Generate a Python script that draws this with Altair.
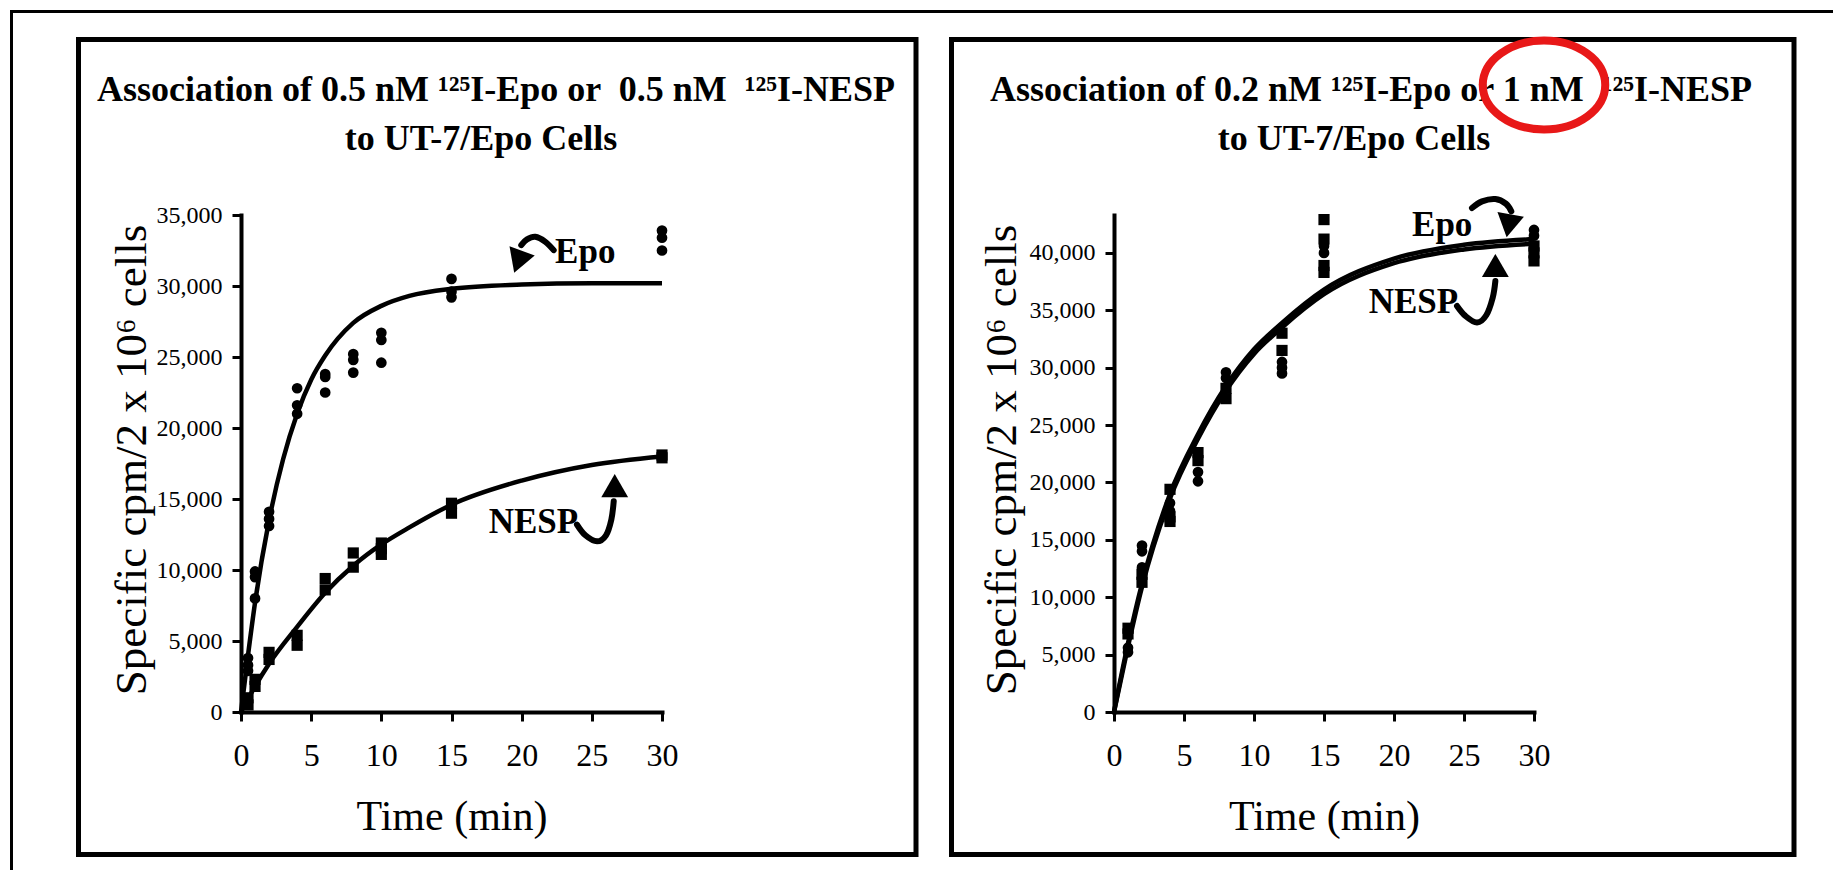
import altair as alt
import pandas as pd

FONT = "Liberation Serif"

# ---------------- Left panel (0.5 nM Epo vs 0.5 nM NESP) ----------------
L_TIMES = [0.5, 1, 2, 4, 6, 8, 10, 15, 30]
L_EPO = [[3800, 3300, 2900], [9900, 9500, 8000], [14100, 13600, 13100],
         [22800, 21600, 21000], [23800, 23600, 22500], [25200, 24800, 23900],
         [26700, 26200, 24600], [30500, 29600, 29200], [33900, 33400, 32500]]
L_NESP = [[1000, 500], [2300, 1800], [4200, 3700], [5400, 4700], [9400, 8600],
          [11200, 10200], [11900, 11500, 11100], [14700, 14000], [18100, 17900]]
L_EPO_FIT_T = [0, 0.5, 1, 2, 3, 4, 5, 6, 8, 10, 12, 15, 20, 25, 30]
L_EPO_FIT_V = [0, 4000, 7700, 13500, 17800, 21000, 23400, 25100, 27400, 28600,
               29300, 29800, 30100, 30200, 30200]
L_NESP_FIT_T = [0, 1, 2, 4, 6, 8, 10, 12, 15, 20, 25, 30]
L_NESP_FIT_V = [0, 1800, 3400, 6000, 8400, 10300, 11800, 13000, 14600, 16300, 17400, 18000]
L_YTICKS = [0, 5000, 10000, 15000, 20000, 25000, 30000, 35000]
L_YDOM = [0, 35000]

# annotation arrows (data space)
L_EPO_ARROW_T = [22.28, 21.69, 20.97, 20.38, 19.97]
L_EPO_ARROW_V = [32525, 33112, 33467, 33280, 32878]
L_NESP_ARROW_T = [23.94, 24.54, 25.37, 26.01, 26.39, 26.56]
L_NESP_ARROW_V = [13200, 12445, 12020, 12445, 13553, 14848]
L_HEAD_T = [19.75, 26.63]
L_HEAD_V = [31700, 15950]
L_HEAD_SHAPE = ["triangle-down", "triangle-up"]
L_HEAD_ANGLE = [20, 0]
L_LABEL_T = [22.38, 17.65]
L_LABEL_V = [31630, 12610]
L_LABEL_TEXT = ["Epo", "NESP"]

# ---------------- Right panel (0.2 nM Epo vs 1 nM NESP) ----------------
R_TIMES = [1, 2, 4, 6, 8, 12, 15, 30]
R_EPO = [[5600, 5200], [14500, 14000, 12600], [18200, 17500], [20900, 20100],
         [29600, 29100], [30500, 30000, 29500], [40600, 40000], [42000, 41500]]
R_NESP = [[7300, 6800], [12000, 11300], [19400, 17000, 16600], [22600, 21900],
          [28200, 27300], [33000, 31500], [42900, 41200, 38900, 38300],
          [40600, 40000, 39300]]
R_FIT_T = [0, 1, 2, 4, 6, 8, 10, 12, 15, 20, 25, 30]
R_EPO_FIT_V = [0, 6000, 11200, 19000, 24200, 28400, 31600, 33900, 36800, 39500, 40700, 41200]
R_NESP_FIT_V = [0, 5700, 10900, 18600, 23800, 28000, 31200, 33500, 36400, 39100, 40300, 40800]
R_YTICKS = [0, 5000, 10000, 15000, 20000, 25000, 30000, 35000, 40000]
R_YDOM = [0, 43300]

R_EPO_ARROW_T = [25.57, 26.29, 27.24, 28.0, 28.38]
R_EPO_ARROW_V = [43904, 44483, 44685, 44280, 43616]
R_NESP_ARROW_T = [24.5, 25.1, 25.93, 26.59, 27.05, 27.24]
R_NESP_ARROW_V = [35375, 34507, 33926, 34565, 36095, 37543]
R_HEAD_T = [28.19, 27.24]
R_HEAD_V = [42360, 38900]
R_HEAD_SHAPE = ["triangle-down", "triangle-up"]
R_HEAD_ANGLE = [10, 0]
R_LABEL_T = [21.29, 18.19]
R_LABEL_V = [41446, 34794]
R_LABEL_TEXT = ["Epo", "NESP"]

X_TICKS = [0, 5, 10, 15, 20, 25, 30]
NB = "\u00a0"
L_TITLE1 = "Association of 0.5 nM \u00b9\u00b2\u2075I-Epo or " + NB + "0.5 nM " + NB + "\u00b9\u00b2\u2075I-NESP"
R_TITLE1 = "Association of 0.2 nM \u00b9\u00b2\u2075I-Epo or 1 nM " + NB + "\u00b9\u00b2\u2075I-NESP"
TITLE2 = "to UT-7/Epo Cells"
Y_TITLE = "Specific cpm/2 x 10\u2076 cells"
X_TITLE = "Time (min)"

W, H = 421, 497
W2 = 420


def points_df(times, epo, nesp):
    rows = []
    for t, vals in zip(times, epo):
        rows += [{"t": t, "v": v, "s": "Epo"} for v in vals]
    for t, vals in zip(times, nesp):
        rows += [{"t": t, "v": v, "s": "NESP"} for v in vals]
    return pd.DataFrame(rows)


def fit_df(t1, v1, t2, v2):
    a = pd.DataFrame({"t": t1, "v": v1, "s": "Epo"})
    b = pd.DataFrame({"t": t2, "v": v2, "s": "NESP"})
    return pd.concat([a, b], ignore_index=True)


def arrow_df(t1, v1, t2, v2):
    a = pd.DataFrame({"t": t1, "v": v1, "a": "epo", "o": list(range(len(t1)))})
    b = pd.DataFrame({"t": t2, "v": v2, "a": "nesp", "o": list(range(len(t2)))})
    return pd.concat([a, b], ignore_index=True)


def panel(pts, fits, arrows, heads, labels, ydom, yticks, w, title1, title2,
          t1x, t2x, ytitle_x, frame_x2, extra, line_w):
    X = alt.X("t:Q", scale=alt.Scale(domain=[0, 30], nice=False, zero=False),
              axis=alt.Axis(values=X_TICKS, format="d", title=X_TITLE, grid=False,
                            domainColor="black", domainWidth=4, domainCap="square",
                            tickColor="black", tickWidth=3, tickSize=9,
                            labelFont=FONT, labelFontSize=32, labelColor="black",
                            labelBaseline="alphabetic", labelPadding=44,
                            labelFlush=False, labelOverlap=False,
                            titleFont=FONT, titleFontSize=42, titleFontWeight="normal",
                            titleColor="black", titleX=w / 2, titleY=117,
                            titleAlign="center", titleBaseline="alphabetic"))
    Y = alt.Y("v:Q", scale=alt.Scale(domain=ydom, nice=False, zero=True),
              axis=alt.Axis(values=yticks, format=",d", title=Y_TITLE, grid=False,
                            domainColor="black", domainWidth=4, domainCap="square",
                            tickColor="black", tickWidth=3, tickSize=9,
                            labelFont=FONT, labelFontSize=24, labelColor="black",
                            labelPadding=10, labelBaseline="middle",
                            labelOverlap=False, labelFlush=False,
                            titleFont=FONT, titleFontSize=45, titleFontWeight="normal",
                            titleColor="black", titleAngle=270, titleX=ytitle_x,
                            titleY=H / 2 - 4, titleAlign="center",
                            titleBaseline="middle"))
    one = pd.DataFrame({"k": [0]})

    pts_layer = alt.Chart(pts).mark_point(filled=True, opacity=1, color="black").encode(
        x=X, y=Y,
        shape=alt.Shape("s:N", scale=alt.Scale(domain=["Epo", "NESP"], range=["circle", "square"]), legend=None),
        size=alt.Size("s:N", scale=alt.Scale(domain=["Epo", "NESP"], range=[115, 125]), legend=None),
    )
    fit_layer = alt.Chart(fits).mark_line(color="black", strokeWidth=line_w, interpolate="monotone").encode(
        x=X, y=Y, detail="s:N")
    arrow_layer = alt.Chart(arrows).mark_line(color="black", strokeWidth=6, interpolate="cardinal",
                                              strokeCap="round").encode(
        x=X, y=Y, detail="a:N", order="o:Q")
    head_layer = alt.Chart(heads).mark_point(filled=True, opacity=1, color="black", size=720).encode(
        x=X, y=Y,
        shape=alt.Shape("shape:N", scale=None),
        angle=alt.Angle("angle:Q", scale=None))
    label_layer = alt.Chart(labels).mark_text(font=FONT, fontSize=35, fontWeight="bold", color="black",
                                              align="left", baseline="alphabetic").encode(
        x=X, y=Y, text="text:N")

    frame = alt.Chart(one).mark_rect(fillOpacity=0, stroke="black", strokeWidth=5).encode(
        x=alt.value(-162.5), x2=alt.value(frame_x2), y=alt.value(-175.5), y2=alt.value(639.5))
    tl1 = alt.Chart(one).mark_text(font=FONT, fontSize=36, fontWeight="bold", color="black",
                                   align="center", baseline="alphabetic").encode(
        x=alt.value(t1x), y=alt.value(-114), text=alt.value(title1))
    tl2 = alt.Chart(one).mark_text(font=FONT, fontSize=36, fontWeight="bold", color="black",
                                   align="center", baseline="alphabetic").encode(
        x=alt.value(t2x), y=alt.value(-65), text=alt.value(title2))

    layers = [frame, tl1, tl2, fit_layer, pts_layer, arrow_layer, head_layer, label_layer] + extra
    return alt.layer(*layers).properties(width=w, height=H)


one_row = pd.DataFrame({"k": [0]})
# outer picture border (top and left edges)
border_left = alt.Chart(one_row).mark_rule(color="black", strokeWidth=3, strokeCap="butt").encode(
    x=alt.value(-229.5), y=alt.value(-205), y2=alt.value(655))
border_top = alt.Chart(one_row).mark_rule(color="black", strokeWidth=3, strokeCap="butt").encode(
    y=alt.value(-203.5), x=alt.value(-231), x2=alt.value(1592))

ELLIPSE = ("M1,0C1,0.401,0.552,0.726,0,0.726C-0.552,0.726,-1,0.401,-1,0"
           "C-1,-0.401,-0.552,-0.726,0,-0.726C0.552,-0.726,1,-0.401,1,0Z")
red_ring = alt.Chart(one_row).mark_point(shape=ELLIPSE, filled=False, stroke="#e81818",
                                         strokeWidth=8, opacity=1, size=15000).encode(
    x=alt.value(430), y=alt.value(-130))

left = panel(
    points_df(L_TIMES, L_EPO, L_NESP),
    fit_df(L_EPO_FIT_T, L_EPO_FIT_V, L_NESP_FIT_T, L_NESP_FIT_V),
    arrow_df(L_EPO_ARROW_T, L_EPO_ARROW_V, L_NESP_ARROW_T, L_NESP_ARROW_V),
    pd.DataFrame({"t": L_HEAD_T, "v": L_HEAD_V, "shape": L_HEAD_SHAPE, "angle": L_HEAD_ANGLE}),
    pd.DataFrame({"t": L_LABEL_T, "v": L_LABEL_V, "text": L_LABEL_TEXT}),
    L_YDOM, L_YTICKS, W, L_TITLE1, TITLE2, 255, 240, -110, 675,
    [border_left, border_top], 4.5)

right = panel(
    points_df(R_TIMES, R_EPO, R_NESP),
    fit_df(R_FIT_T, R_EPO_FIT_V, R_FIT_T, R_NESP_FIT_V),
    arrow_df(R_EPO_ARROW_T, R_EPO_ARROW_V, R_NESP_ARROW_T, R_NESP_ARROW_V),
    pd.DataFrame({"t": R_HEAD_T, "v": R_HEAD_V, "shape": R_HEAD_SHAPE, "angle": R_HEAD_ANGLE}),
    pd.DataFrame({"t": R_LABEL_T, "v": R_LABEL_V, "text": R_LABEL_TEXT}),
    R_YDOM, R_YTICKS, W2, R_TITLE1, TITLE2, 257, 240, -113, 680,
    [red_ring], 4.5)

chart = alt.hconcat(left, right, spacing=452, bounds="flush").properties(
    padding=0, background="white"
).configure_view(stroke=None)

chart.save("out.html", embed_options={"renderer": "svg", "actions": False})
